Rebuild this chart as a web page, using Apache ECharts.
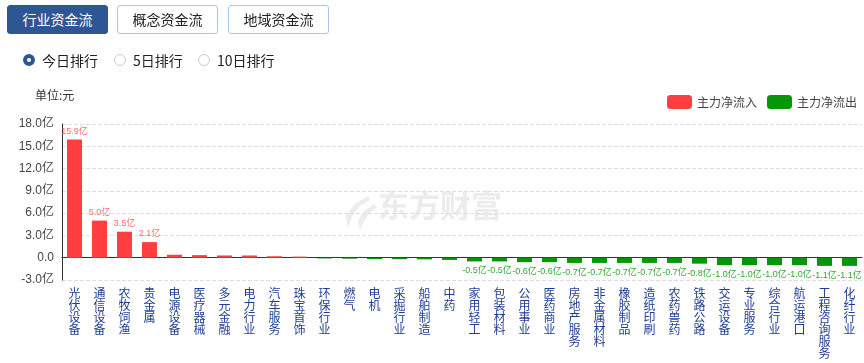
<!DOCTYPE html>
<html>
<head>
<meta charset="utf-8">
<script src="https://cdn.jsdelivr.net/npm/echarts@6/dist/echarts.min.js"></script>
<style>
  html, body { margin:0; padding:0; background:#fff; }
  #wrap { position:relative; width:864px; height:363px; overflow:hidden; font-family:'Noto Sans CJK SC', sans-serif; }
  #chart { position:absolute; left:0; top:0; width:864px; height:363px; }
  .btn { position:absolute; top:5px; height:27px; width:99px; border:1px solid #aac6e6; border-radius:3px;
         font-size:14px; line-height:27px; text-align:center; color:#222; background:#fff; box-sizing:content-box; z-index:2; }
  .btn.on { background:#2e5594; border-color:#2e5594; color:#fff; }
  .radio { position:absolute; top:52px; height:16px; font-size:14px; line-height:16px; color:#222; z-index:2; }
  .radio i { position:absolute; left:0; top:2px; width:10px; height:10px; border:1px solid #c3cbd8; border-radius:50%; background:#fff; }
  .radio.on i { width:4px; height:4px; border:4px solid #2e5594; }
  .radio span { position:absolute; left:19px; top:0; white-space:nowrap; }
</style>
</head>
<body>
<div id="wrap">
  <div class="btn on" style="left:7px;">行业资金流</div>
  <div class="btn" style="left:117px;">概念资金流</div>
  <div class="btn" style="left:228px;">地域资金流</div>
  <div class="radio on" style="left:23px;"><i></i><span>今日排行</span></div>
  <div class="radio" style="left:114px;"><i></i><span>5日排行</span></div>
  <div class="radio" style="left:198px;"><i></i><span>10日排行</span></div>
  <div id="chart"></div>
</div>
<script>
const categories = ['光伏设备','通信设备','农牧饲渔','贵金属','电源设备','医疗器械','多元金融','电力行业','汽车服务','珠宝首饰',
  '环保行业','燃气','电机','采掘行业','船舶制造','中药','家用轻工','包装材料','公用事业','医药商业',
  '房地产服务','非金属材料','橡胶制品','造纸印刷','农药兽药','铁路公路','交运设备','专业服务','综合行业','航运港口',
  '工程咨询服务','化纤行业'];
// 主力净流入/流出, 单位: 亿元
const netFlow = [15.9, 5.0, 3.5, 2.1, 0.4, 0.35, 0.3, 0.3, 0.2, 0.15,
  -0.1, -0.13, -0.18, -0.2, -0.22, -0.3, -0.5, -0.5, -0.6, -0.6,
  -0.7, -0.7, -0.7, -0.7, -0.7, -0.8, -1.0, -1.0, -1.0, -1.0,
  -1.1, -1.1];
const yTicks = { min: -3, max: 18, interval: 3 };
const seriesNames = ['主力净流入', '主力净流出'];
const labelThreshold = 0.45;

const RED = '#ff3f3f', GREEN = '#069606';
const fmt = v => v.toFixed(1) + '亿';

const inflow = netFlow.map(v => v > 0 ? {
  value: v,
  label: { show: v >= labelThreshold, position: 'top', distance: 4, fontSize: 9, color: '#ff6b6b' }
} : '-');
const outflow = netFlow.map(v => v <= 0 ? {
  value: v,
  label: { show: -v >= labelThreshold, position: 'bottom', distance: 5, fontSize: 9, color: '#2fa82f' }
} : '-');

const chart = echarts.init(document.getElementById('chart'));
chart.setOption({
  animation: false,
  textStyle: { fontFamily: "'Liberation Sans', 'Noto Sans CJK SC', sans-serif" },
  grid: { left: 62, right: 2, top: 124, bottom: 83, containLabel: false },
  legend: {
    right: 2, top: 90, itemWidth: 25, itemHeight: 14, itemGap: 10, icon: 'roundRect',
    textStyle: { fontSize: 12, color: '#444', fontFamily: 'Noto Sans CJK SC' },
    data: seriesNames
  },
  graphic: [
    { type: 'text', left: 35, top: 89, style: { text: '单位:元', fontSize: 12, fill: '#333', fontFamily: 'Noto Sans CJK SC' } },
    { type: 'text', left: 378, top: 190, z: -10, silent: true, style: { text: '东方财富', fontSize: 31, fontWeight: 'bold', fill: '#ececec', fontFamily: 'Noto Sans CJK SC' } },
    { type: 'polygon', z: -10, silent: true, shape: { points: [[368,196],[356,203],[346,215],[348,228],[352,216],[360,206],[370,200]] }, style: { fill: '#ececec' } },
    { type: 'polygon', z: -10, silent: true, shape: { points: [[374,204],[364,211],[358,221],[360,230],[364,221],[370,213],[377,208]] }, style: { fill: '#ececec' } }
  ],
  xAxis: [
    {
      type: 'category', data: categories, position: 'bottom',
      axisLine: { show: false, onZero: false }, axisTick: { show: false },
      axisLabel: {
        interval: 0, margin: 7, fontSize: 12, lineHeight: 12, color: '#1f3d94',
        fontFamily: 'Noto Sans CJK SC',
        formatter: s => s.split('').join('\n')
      }
    },
    {
      type: 'category', data: categories, position: 'bottom',
      axisLine: { show: true, onZero: true, lineStyle: { color: '#333', width: 1 } },
      axisTick: { show: false }, axisLabel: { show: false }
    }
  ],
  yAxis: {
    type: 'value', min: yTicks.min, max: yTicks.max, interval: yTicks.interval,
    axisLine: { show: true, lineStyle: { color: '#333' } },
    axisTick: { show: false },
    axisLabel: { fontSize: 12, color: '#444', margin: 8, formatter: v => v === 0 ? '0.0' : v.toFixed(1) + '亿' },
    splitLine: { show: true, lineStyle: { type: 'dashed', color: '#dedede' } }
  },
  series: [
    { name: seriesNames[0], type: 'bar', stack: 'flow', barWidth: 15, data: inflow, itemStyle: { color: RED },
      label: { formatter: p => fmt(p.value) } },
    { name: seriesNames[1], type: 'bar', stack: 'flow', barWidth: 15, data: outflow, itemStyle: { color: GREEN },
      label: { formatter: p => fmt(p.value) } }
  ]
});
</script>
</body>
</html>
